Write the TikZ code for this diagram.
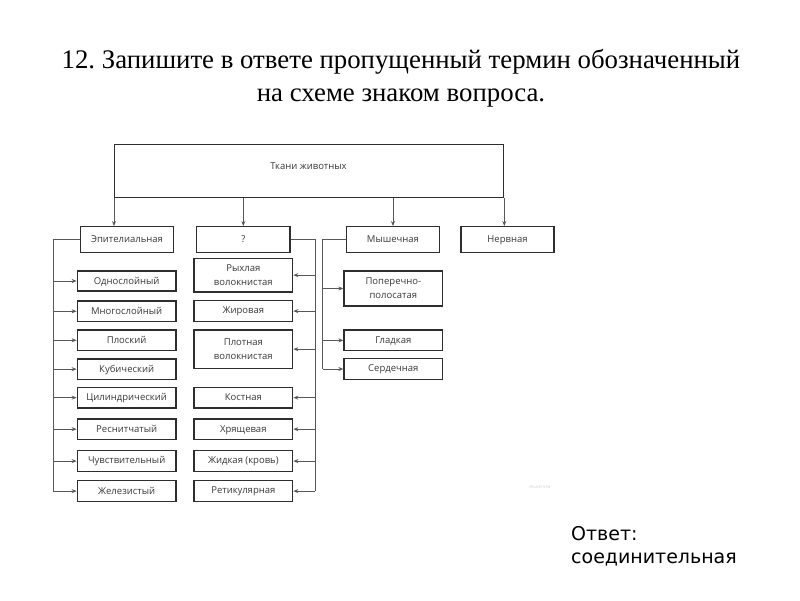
\documentclass[tikz,border=0pt]{standalone}
\usepackage{fontspec}
\setmainfont{Liberation Serif}
\newfontfamily\boxfont{Open Sans}
\newfontfamily\ansfont{DejaVu Sans}
\usetikzlibrary{arrows.meta}
\definecolor{ln}{HTML}{2E2E2E}
\definecolor{tx}{HTML}{3A3A3A}
\newcommand{\bstrut}{\rule[-1.6pt]{0pt}{9.6pt}}
\tikzset{
  bx/.style={draw=ln,line width=1.3pt,rectangle,inner sep=0pt,align=center,
    font=\boxfont\fontsize{9.5}{14}\selectfont,text=tx},
  bus/.style={draw=ln!80,line width=0.8pt},
  arr/.style={draw=ln!80,line width=0.8pt,-{Stealth[length=5pt,width=4pt]}},
  ttl/.style={font=\fontsize{26.8}{30}\selectfont,text=black,inner sep=0pt,anchor=base},
}
\newcommand{\bxat}[6]{\node[bx,minimum width=#4-#2,minimum height=#5-#3] (#1) at ({(#2+#4)/2},{(#3+#5)/2}) {\bstrut #6};}
\begin{document}
\frenchspacing
\begin{tikzpicture}[x=1pt,y=-1pt]
\useasboundingbox (0,0) rectangle (800,600);
\fill[white] (0,0) rectangle (800,600);
% title
\node[ttl] (t1) at (401,68.5) {12. Запишите в ответе пропущенный термин обозначенный};
\node[ttl] (t2) at (401,101.5) {на схеме знаком вопроса.};
% top
\node[bx,minimum width=389,minimum height=53,anchor=north west] (top) at (114,144) {};
\node[font=\boxfont\fontsize{9.5}{12}\selectfont,text=tx] (topl) at (308.5,166.5) {Ткани животных};
% second level
\bxat{epi}{80.7}{226.7}{173.3}{252.7}{Эпителиальная}
\bxat{q}{196.7}{226.7}{290}{252.7}{?}
\bxat{mus}{346.7}{226.7}{439.3}{252.7}{Мышечная}
\bxat{ner}{461}{226.7}{554}{252.7}{Нервная}
% left column
\bxat{e1}{77.3}{271}{176}{291}{Однослойный}
\bxat{e2}{77.3}{301}{176}{321.5}{Многослойный}
\bxat{e3}{77.3}{330}{176}{350.5}{Плоский}
\bxat{e4}{77.3}{359}{176}{379.3}{Кубический}
\bxat{e5}{77.3}{387.3}{176}{408}{Цилиндрический}
\bxat{e6}{77.3}{419}{176}{439.3}{Реснитчатый}
\bxat{e7}{77.3}{450.7}{176}{471.5}{Чувствительный}
\bxat{e8}{77.3}{480.7}{176}{501.5}{Железистый}
% middle column
\bxat{c1}{194}{258.3}{292.7}{292}{Рыхлая\\\bstrut волокнистая}
\bxat{c2}{194}{300.7}{292.7}{321.5}{Жировая}
\bxat{c3}{194}{330}{292.7}{368.3}{Плотная\\\bstrut волокнистая}
\bxat{c4}{194}{387.3}{292.7}{408}{Костная}
\bxat{c5}{194}{419}{292.7}{439.3}{Хрящевая}
\bxat{c6}{194}{450.7}{292.7}{471.5}{Жидкая (кровь)}
\bxat{c7}{194}{480.7}{292.7}{501.5}{Ретикулярная}
% right column
\bxat{m1}{344}{271}{442.7}{306}{Поперечно-\\\bstrut полосатая}
\bxat{m2}{344}{330}{442.7}{350.7}{Гладкая}
\bxat{m3}{344}{358.7}{442.7}{379.3}{Сердечная}
% top arrows
\draw[arr] (top.south west) -- (top.south west |- epi.north);
\draw[arr] (top.south -| q.north) -- (q.north);
\draw[arr] (top.south -| mus.north) -- (mus.north);
\draw[arr] (top.south east) -- (top.south east |- ner.north);
% buses
\coordinate (eb1) at (53.3,239.7);
\coordinate (eb2) at (53.3,491.1);
\draw[bus] (epi.west) -- (eb1) -- (eb2);
\foreach \n in {e1,e2,e3,e4,e5,e6,e7,e8} \draw[arr] (eb1 |- \n.west) -- (\n.west);
\coordinate (qb1) at (315,239.7);
\coordinate (qb2) at (315,491.1);
\draw[bus] (q.east) -- (qb1) -- (qb2);
\foreach \n in {c1,c2,c3,c4,c5,c6,c7} \draw[arr] (qb1 |- \n.east) -- (\n.east);
\coordinate (mb1) at (322.5,239.7);
\coordinate (mb2) at (322.5,369);
\draw[bus] (mus.west) -- (mb1) -- (mb2);
\foreach \n in {m1,m2,m3} \draw[arr] (mb1 |- \n.west) -- (\n.west);
% watermark
\node[font=\boxfont\fontsize{3.5}{4}\selectfont,text=black!20] (wm) at (540,487) {РЕШУЕГЭ.РФ};
% answer
\node[font=\ansfont\fontsize{19}{24}\selectfont,text=black,anchor=base west,inner sep=0pt,align=left] (ans1) at (571,540) {Ответ:};
\node[font=\ansfont\fontsize{19}{24}\selectfont,text=black,anchor=base west,inner sep=0pt] (ans2) at (571,563) {соединительная};
\end{tikzpicture}
\end{document}
